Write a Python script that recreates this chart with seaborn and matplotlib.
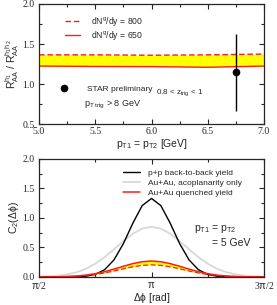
import numpy as np
import pandas as pd
import seaborn as sns
import matplotlib.pyplot as plt
from matplotlib.ticker import MultipleLocator, FixedLocator
from matplotlib.lines import Line2D

# top panel: ratio band vs pT
pt = [5.0, 5.5, 6.0, 6.5, 7.0]
ratio_800 = [1.365, 1.365, 1.360, 1.365, 1.375]
ratio_650 = [1.225, 1.220, 1.218, 1.210, 1.225]
star_x = [6.75]
star_y = [1.15]
star_err = [0.48]

# bottom panel: correlation functions vs delta phi
dphi = [1.571, 1.702, 1.833, 1.963, 2.094, 2.225, 2.356, 2.487, 2.618, 2.749, 2.880, 3.011,
        3.142, 3.272, 3.403, 3.534, 3.665, 3.796, 3.927, 4.058, 4.189, 4.320, 4.451, 4.581, 4.712]
pp = [0.0, 0.0, 0.0, 0.001, 0.003, 0.012, 0.043, 0.123, 0.290, 0.565, 0.909, 1.209,
      1.330, 1.209, 0.909, 0.565, 0.290, 0.123, 0.043, 0.012, 0.003, 0.001, 0.0, 0.0, 0.0]
acop = [0.004, 0.009, 0.021, 0.042, 0.079, 0.138, 0.223, 0.336, 0.469, 0.608, 0.733, 0.819,
        0.850, 0.819, 0.733, 0.608, 0.469, 0.336, 0.223, 0.138, 0.079, 0.042, 0.021, 0.009, 0.004]
quench_650 = [0.001, 0.001, 0.003, 0.008, 0.016, 0.031, 0.055, 0.089, 0.133, 0.181, 0.226, 0.258,
              0.270, 0.258, 0.226, 0.181, 0.133, 0.089, 0.055, 0.031, 0.016, 0.008, 0.003, 0.001, 0.001]
quench_800 = [0.0, 0.001, 0.002, 0.006, 0.012, 0.023, 0.042, 0.068, 0.101, 0.138, 0.172, 0.196,
              0.205, 0.196, 0.172, 0.138, 0.101, 0.068, 0.042, 0.023, 0.012, 0.006, 0.002, 0.001, 0.0]

top = pd.DataFrame({"pt": pt, "r800": ratio_800, "r650": ratio_650})
bot = pd.DataFrame({"dphi": dphi, "pp": pp, "acop": acop, "q650": quench_650, "q800": quench_800})

sns.set_style("ticks")
plt.rcParams["font.family"] = ["Liberation Sans", "DejaVu Sans"]
plt.rcParams["mathtext.fontset"] = "custom"
plt.rcParams["mathtext.rm"] = "Liberation Sans"
plt.rcParams["mathtext.it"] = "Liberation Sans"
plt.rcParams["xtick.direction"] = "in"
plt.rcParams["ytick.direction"] = "in"
plt.rcParams["xtick.top"] = True
plt.rcParams["ytick.right"] = True

fig = plt.figure(figsize=(2.77, 3.05), dpi=100)
ax1 = fig.add_axes([0.141, 0.593, 0.812, 0.394])
ax2 = fig.add_axes([0.141, 0.092, 0.812, 0.387])

RED = "#ff1a1a"
YEL = "#ffff00"
serif = "Liberation Serif"

# ---- top ----
ax1.fill_between(top["pt"], top["r650"], top["r800"], color=YEL, lw=0)
sns.lineplot(data=top, x="pt", y="r800", ax=ax1, color=RED, lw=1.0, linestyle=(0, (4, 2)))
sns.lineplot(data=top, x="pt", y="r650", ax=ax1, color=RED, lw=1.0)
ax1.errorbar(star_x, star_y, yerr=star_err, fmt="o", color="black", ms=4.5, elinewidth=1.0, capsize=0)
ax1.set_xlim(5, 7)
ax1.set_ylim(0.5, 2)
ax1.xaxis.set_major_locator(MultipleLocator(0.5))
ax1.xaxis.set_minor_locator(MultipleLocator(0.25))
ax1.yaxis.set_major_locator(MultipleLocator(0.5))
ax1.yaxis.set_minor_locator(MultipleLocator(0.25))
ax1.set_xlabel(r"p$_{\mathregular{T1}}$ = p$_{\mathregular{T2}}$ [GeV]", fontsize=7.5, labelpad=1)
ax1.set_ylabel(r"R$_{\mathregular{AA}}^{\mathregular{h_1}}$ / R$_{\mathregular{AA}}^{\mathregular{h_1h_2}}$",
               fontsize=7.5, labelpad=1.5)
h1 = [Line2D([], [], color=RED, lw=1.0, linestyle=(0, (4, 2))), Line2D([], [], color=RED, lw=1.0)]
leg1 = ax1.legend(h1, [r"dN$^{\mathregular{g}}$/dy = 800", r"dN$^{\mathregular{g}}$/dy = 650"],
                  loc="upper left", bbox_to_anchor=(0.08, 0.97), frameon=False, fontsize=6.2,
                  handlelength=1.8, handletextpad=1.2, labelspacing=0.05)
ax1.add_artist(leg1)
h2 = [Line2D([], [], color="black", marker="o", ms=4.5, lw=0)]
ax1.legend(h2, ["STAR preliminary"], loc="lower left", bbox_to_anchor=(0.05, 0.20), frameon=False,
           fontsize=6, handletextpad=2.0, handlelength=1.5)
ax1.text(0.52, 0.25, r"0.8 < z$_{\mathregular{trig}}$ < 1", transform=ax1.transAxes, fontsize=5.8)
ax1.text(0.20, 0.15, r"p$_{\mathregular{T\ trig}}$ > 8 GeV", transform=ax1.transAxes, fontsize=6.5)

# ---- bottom ----
ax2.fill_between(bot["dphi"], bot["q800"], bot["q650"], color=YEL, lw=0)
sns.lineplot(data=bot, x="dphi", y="acop", ax=ax2, color="#d8d8d8", lw=1.3)
sns.lineplot(data=bot, x="dphi", y="pp", ax=ax2, color="black", lw=1.0)
sns.lineplot(data=bot, x="dphi", y="q800", ax=ax2, color=RED, lw=0.9, linestyle=(0, (4, 2)))
sns.lineplot(data=bot, x="dphi", y="q650", ax=ax2, color=RED, lw=1.1)
ax2.set_xlim(np.pi / 2, 3 * np.pi / 2)
ax2.set_ylim(0, 2)
ax2.xaxis.set_major_locator(FixedLocator([np.pi / 2, np.pi, 3 * np.pi / 2]))
ax2.xaxis.set_minor_locator(FixedLocator([3 * np.pi / 4, 5 * np.pi / 4]))
ax2.set_xticklabels([r"$\pi$/2", r"$\pi$", r"3$\pi$/2"])
ax2.yaxis.set_major_locator(MultipleLocator(0.5))
ax2.yaxis.set_minor_locator(MultipleLocator(0.25))
ax2.set_xlabel(r"$\Delta\phi$ [rad]", fontsize=7.5, labelpad=0.5)
ax2.set_ylabel(r"C$_{\mathregular{2}}$($\Delta\phi$)", fontsize=7.5, labelpad=1.5)
h3 = [Line2D([], [], color="black", lw=1.0), Line2D([], [], color="#d8d8d8", lw=1.3),
      Line2D([], [], color=RED, lw=1.1)]
ax2.legend(h3, ["p+p back-to-back yield", "Au+Au, acoplanarity only", "Au+Au quenched yield"],
           loc="upper left", bbox_to_anchor=(0.34, 0.98), frameon=False, fontsize=6,
           handlelength=2.0, handletextpad=1.0, labelspacing=0.3)
ax2.text(0.69, 0.39, r"p$_{\mathregular{T1}}$ = p$_{\mathregular{T2}}$", transform=ax2.transAxes, fontsize=7.5)
ax2.text(0.77, 0.26, "= 5 GeV", transform=ax2.transAxes, fontsize=7.5)

for ax in (ax1, ax2):
    ax.tick_params(which="major", length=3.5, width=0.8, labelsize=7)
    ax.tick_params(axis="x", which="major", pad=2)
    ax.tick_params(axis="y", which="major", pad=3)
    ax.tick_params(which="minor", length=2, width=0.8)
    for lab in ax.get_xticklabels() + ax.get_yticklabels():
        lab.set_fontfamily(serif)
    for s in ax.spines.values():
        s.set_linewidth(0.9)
    ax.set_facecolor("white")

# keep the lowest y label clear of the first x label
for ax in (ax1, ax2):
    ax.get_yticklabels()[0].set_verticalalignment("bottom")

fig.savefig("out.png", dpi=100)
